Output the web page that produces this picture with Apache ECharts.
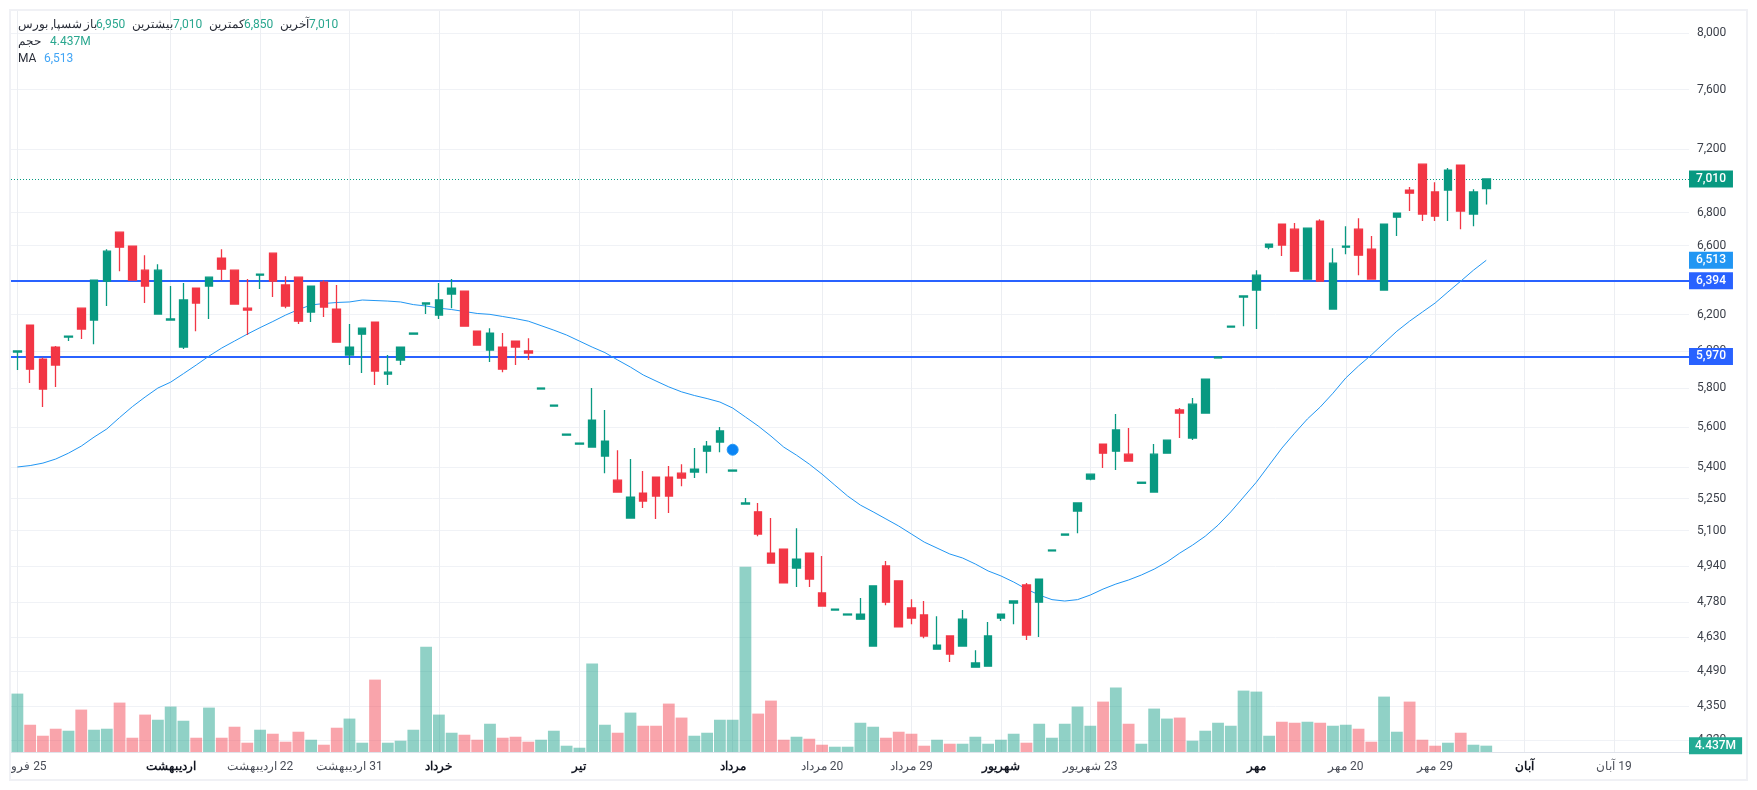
<!DOCTYPE html>
<html>
<head>
<meta charset="utf-8">
<style>html,body{margin:0;padding:0;background:#fff}#chart{width:1757px;height:790px}</style>
<script src="https://cdn.jsdelivr.net/npm/echarts@6/dist/echarts.min.js"></script>
</head>
<body>
<div id="chart"></div>
<script>
var opens = [5994,6142,5956,6021,6076,6237,6170,6391,6681,6597,6455,6204,6170,6021,6351,6363,6526,6455,6237,6426,
	6555,6369,6414,6215,6386,6232,5978,6092,6159,5876,5951,6092,6260,6198,6317,6334,6108,6005,6021,6054,
	6000,5797,5708,5560,5515,5500,5456,5338,5158,5276,5353,5353,5372,5377,5480,5525,5382,5224,5187,4997,
	5015,4930,4997,4820,4746,4725,4707,4594,4939,4873,4755,4725,4581,4636,4594,4507,4511,4712,4776,4855,
	4780,5007,5079,5191,5343,5515,5480,5465,5323,5281,5470,5688,5545,5672,5962,6131,6300,6340,6591,6730,
	6699,6403,6748,6232,6591,6699,6579,6340,6772,6940,7105,6928,6940,7099,6791,6950];
var closes = [6000,5902,5797,5924,6081,6120,6397,6567,6591,6397,6363,6455,6176,6283,6266,6414,6461,6260,6226,6432,
	6391,6249,6164,6363,6243,6048,6021,6125,5892,5886,6021,6098,6266,6283,6351,6136,6032,6098,5902,6021,
	5989,5802,5713,5565,5520,5636,5530,5281,5257,5238,5262,5262,5348,5392,5505,5581,5387,5229,5084,4952,
	4864,4970,4881,4763,4750,4729,4729,4851,4780,4674,4712,4636,4598,4561,4707,4524,4636,4729,4785,4640,
	4881,5011,5084,5229,5367,5470,5586,5431,5328,5465,5535,5672,5718,5849,5967,6136,6306,6426,6609,6603,
	6449,6705,6391,6496,6597,6543,6403,6730,6797,6921,6791,6778,7067,6810,6928,7010];
var lows = [5897,5828,5703,5808,6054,6065,6037,6249,6449,6397,6266,6204,6170,6010,6108,6176,6397,6260,6087,6346,
	6300,6237,6148,6159,6187,6048,5924,5881,5818,5818,5924,6092,6204,6176,6237,6136,6032,5940,5886,5924,
	5951,5797,5708,5560,5515,5500,5372,5281,5158,5205,5154,5182,5309,5348,5372,5475,5382,5224,5074,4952,
	4864,4846,4846,4763,4746,4725,4707,4594,4767,4674,4686,4627,4581,4528,4594,4507,4511,4699,4686,4619,
	4632,5007,5079,5088,5338,5397,5387,5431,5323,5281,5470,5545,5535,5672,5962,6131,6136,6120,6579,6538,
	6449,6403,6391,6232,6549,6426,6403,6340,6657,6810,6748,6748,6748,6699,6717,6850];
var highs = [6000,6142,5965,6027,6081,6237,6397,6579,6681,6597,6543,6490,6363,6380,6351,6414,6579,6455,6403,6432,
	6555,6420,6414,6363,6397,6369,6148,6125,6159,5978,6021,6098,6266,6380,6403,6334,6108,6125,6098,6054,
	6070,5802,5713,5565,5520,5802,5688,5485,5441,5382,5353,5407,5416,5495,5530,5601,5387,5252,5229,5158,
	5015,5111,4997,4984,4750,4729,4798,4851,4961,4873,4793,4785,4720,4636,4746,4577,4695,4729,4785,4864,
	4881,5011,5084,5229,5367,5515,5667,5596,5328,5515,5535,5698,5750,5849,5967,6136,6306,6455,6609,6730,
	6736,6705,6760,6585,6717,6766,6657,6730,6797,6959,7105,6990,7080,7099,6946,7010];
var maValues = [5402,5409,5421,5441,5470,5505,5550,5591,5649,5705,5755,5802,5833,5878,5924,5972,6016,6054,6092,6128,
	6162,6198,6229,6255,6263,6269,6272,6283,6280,6277,6272,6257,6249,6237,6229,6218,6207,6202,6190,6178,
	6164,6139,6114,6087,6054,6021,5991,5951,5913,5871,5839,5808,5782,5763,5747,5729,5698,5652,5606,5555,
	5500,5460,5416,5367,5314,5262,5219,5187,5154,5121,5084,5047,5020,4993,4975,4948,4917,4895,4868,4837,
	4811,4791,4785,4791,4811,4837,4859,4877,4899,4925,4957,4997,5033,5074,5125,5187,5257,5328,5411,5495,
	5570,5642,5703,5775,5855,5919,5978,6043,6108,6164,6215,6266,6329,6391,6455,6513];
var volumes = [40.9,19.1,11.4,16.3,14.9,29.7,15.6,16.3,34.6,10.0,26.2,22.6,31.8,21.9,10.0,31.1,10.0,17.7,6.5,15.6,
	12.8,7.2,14.2,8.6,5.1,17.0,23.4,6.5,50.7,6.5,7.9,15.6,73.8,26.2,13.5,12.1,8.6,19.8,10.0,10.7,
	7.2,8.6,14.9,4.4,3.0,61.9,19.1,13.5,27.6,18.4,18.4,33.9,24.1,11.4,13.5,22.6,22.6,129.8,26.9,36.0,
	8.6,10.7,9.3,5.1,3.7,3.7,20.5,17.7,10.0,14.2,12.8,4.4,8.6,5.8,5.8,10.7,5.8,8.6,12.8,6.5,
	19.8,10.0,19.8,31.8,18.4,35.3,45.1,19.8,5.8,30.4,23.4,24.1,7.9,14.9,20.5,18.4,43.0,42.3,11.4,21.2,
	20.5,21.2,20.5,18.4,19.1,16.3,7.2,38.8,14.2,35.3,8.6,4.4,6.5,13.5,5.1,4.437];

var xTickIdx = [0,12,19,26,33,44,56,63,70,77,84,97,104,111,118,125];
var xTickNames = ['25 فروردین','اردیبهشت','22 اردیبهشت','31 اردیبهشت','خرداد','تیر','مرداد','20 مرداد','29 مرداد','شهریور','23 شهریور','مهر','20 مهر','29 مهر','آبان','19 آبان'];
var xTickBold = [12,33,44,56,77,97,118];
var yTicks = [8000,7600,7200,6800,6600,6200,6000,5800,5600,5400,5250,5100,4940,4780,4630,4490,4350,4220];

var lastPrice = 7010;
var lastMa = 6513;
var levels = [6394,5970];
var lastVolume = 4.437;
var eventIdx = 56;
var eventPrice = 5487;

var green = '#089981';
var red = '#f23645';
var blue = '#2962ff';
var maBlue = '#2196f3';
var gridColor = '#f0f2f6';
var font = 'Roboto, "Noto Sans", sans-serif';
var slots = 132; // 116 candles + empty space on the right

var categories = [];
for (let i = 0; i < slots; i++) categories.push(String(i));

function fmt(v) {
	return Math.round(v).toLocaleString('en-US');
}
function badge(bg, text, pad) {
	return {
		show: true,
		position: 'end',
		distance: -8,
		formatter: text,
		backgroundColor: bg,
		color: '#fff',
		fontFamily: font,
		fontSize: 12,
		fontWeight: 500,
		lineHeight: 13,
		padding: [2, pad || 7]
	};
}
function level(v, color, lineStyle) {
	return { yAxis: v, lineStyle: lineStyle, label: badge(color, fmt(v)) };
}
// header text, one token at a time
function headText(x, y, text, color) {
	return {
		type: 'text', x: x, y: y, z: 100, silent: true,
		style: { text: text, fill: color, font: '12px ' + font, textVerticalAlign: 'middle' }
	};
}

var candleData = opens.map(function(o, i) { return [o, closes[i], lows[i], highs[i]]; });
var volumeData = volumes.map(function(v, i) {
	return { value: v, itemStyle: { color: closes[i] >= opens[i] ? 'rgba(8,153,129,0.45)' : 'rgba(242,54,69,0.45)' } };
});

var dark = '#2a2e39';
var valGreen = '#2aa78f';

var option = {
	animation: false,
	backgroundColor: '#fff',
	textStyle: { fontFamily: font },
	grid: { left: 11, top: 11, right: 60, bottom: 38, outerBoundsMode: 'none' },
	xAxis: {
		type: 'category',
		data: categories,
		axisLine: { onZero: false, lineStyle: { color: '#e0e3eb' } },
		axisTick: { show: false },
		splitLine: {
			show: true,
			alignWithLabel: true,
			interval: function(i) { return xTickIdx.indexOf(i) >= 0; },
			lineStyle: { color: '#eceef2' }
		},
		axisLabel: {
			margin: 9,
			interval: function(i) { return xTickIdx.indexOf(i) >= 0; },
			showMinLabel: true,
			hideOverlap: false,
			color: '#4a4e58',
			fontFamily: font,
			fontSize: 12,
			formatter: function(v) {
				let i = Number(v);
				let name = xTickNames[xTickIdx.indexOf(i)];
				if (xTickBold.indexOf(i) >= 0) return '{b|' + name + '}';
				return '\u200f' + name;
			},
			rich: { b: { fontWeight: 'bold', color: '#131722', fontSize: 12, fontFamily: font } }
		}
	},
	yAxis: [{
		type: 'log',
		position: 'right',
		min: 4174,
		max: 8161,
		axisLine: { show: false },
		axisTick: { show: false, customValues: yTicks },
		splitLine: { show: true, lineStyle: { color: gridColor } },
		axisLabel: {
			customValues: yTicks,
			margin: 0,
			align: 'left',
			color: '#3c404a',
			fontFamily: font,
			fontSize: 12,
			formatter: fmt
		}
	}, {
		type: 'value',
		show: false,
		min: 0,
		max: 519,
		splitLine: { show: false }
	}],
	series: [{
		type: 'bar',
		yAxisIndex: 1,
		z: 2,
		barWidth: 11.8,
		data: volumeData,
		markLine: {
			z: 3,
			silent: true,
			symbol: 'none',
			animation: false,
			lineStyle: { width: 0 },
			data: [{ yAxis: lastVolume, label: badge('#22ab94', lastVolume + 'M', 6) }]
		}
	}, {
		type: 'line',
		z: 3.5,
		data: maValues,
		showSymbol: false,
		symbol: 'none',
		lineStyle: { color: maBlue, width: 1 },
		markLine: {
			z: 3,
			silent: true,
			symbol: 'none',
			animation: false,
			data: [
				level(lastPrice, green, { color: green, type: [1, 2], width: 1 }),
				level(lastMa, maBlue, { width: 0 }),
				level(levels[0], blue, { color: blue, type: 'solid', width: 2 }),
				level(levels[1], blue, { color: blue, type: 'solid', width: 2 })
			]
		},
		markPoint: {
			silent: true,
			animation: false,
			symbol: 'circle',
			symbolSize: 11,
			itemStyle: { color: '#0a84f5', borderColor: '#2196f3', borderWidth: 1 },
			label: { show: false },
			data: [{ coord: [eventIdx, eventPrice] }]
		}
	}, {
		type: 'candlestick',
		z: 4,
		barWidth: 8,
		data: candleData,
		itemStyle: {
			color: green,
			color0: red,
			borderColor: green,
			borderColor0: red,
			borderWidth: 1.3
		}
	}],
	graphic: [
		// keeps the grid lines from running under the price scale
		{ type: 'rect', z: 1, silent: true, shape: { x: 1689, y: 11, width: 8, height: 741 }, style: { fill: '#fff' } },
		// first date label is cut by the panel edge
		{ type: 'rect', z: 99, silent: true, shape: { x: 0, y: 753, width: 10, height: 37 }, style: { fill: '#fff' } },
		{ type: 'rect', z: 99, silent: true, shape: { x: 10, y: 10, width: 1737, height: 770 }, style: { fill: 'none', stroke: '#f0f1f5', lineWidth: 2 } },
		headText(18, 25, 'شسپا, بورس', dark),
		headText(84, 25, 'باز', dark),
		headText(96, 25, '6,950', valGreen),
		headText(132, 25, 'بیشترین', dark),
		headText(173, 25, '7,010', valGreen),
		headText(209, 25, 'کمترین', dark),
		headText(244, 25, '6,850', valGreen),
		headText(280, 25, 'آخرین', dark),
		headText(309, 25, '7,010', valGreen),
		headText(18, 42, 'حجم', dark),
		headText(50, 42, '4.437M', valGreen),
		headText(18, 59, 'MA', dark),
		headText(44, 59, '6,513', '#42a5f5')
	]
};

var chart = echarts.init(document.getElementById('chart'));
chart.setOption(option);
</script>
</body>
</html>
